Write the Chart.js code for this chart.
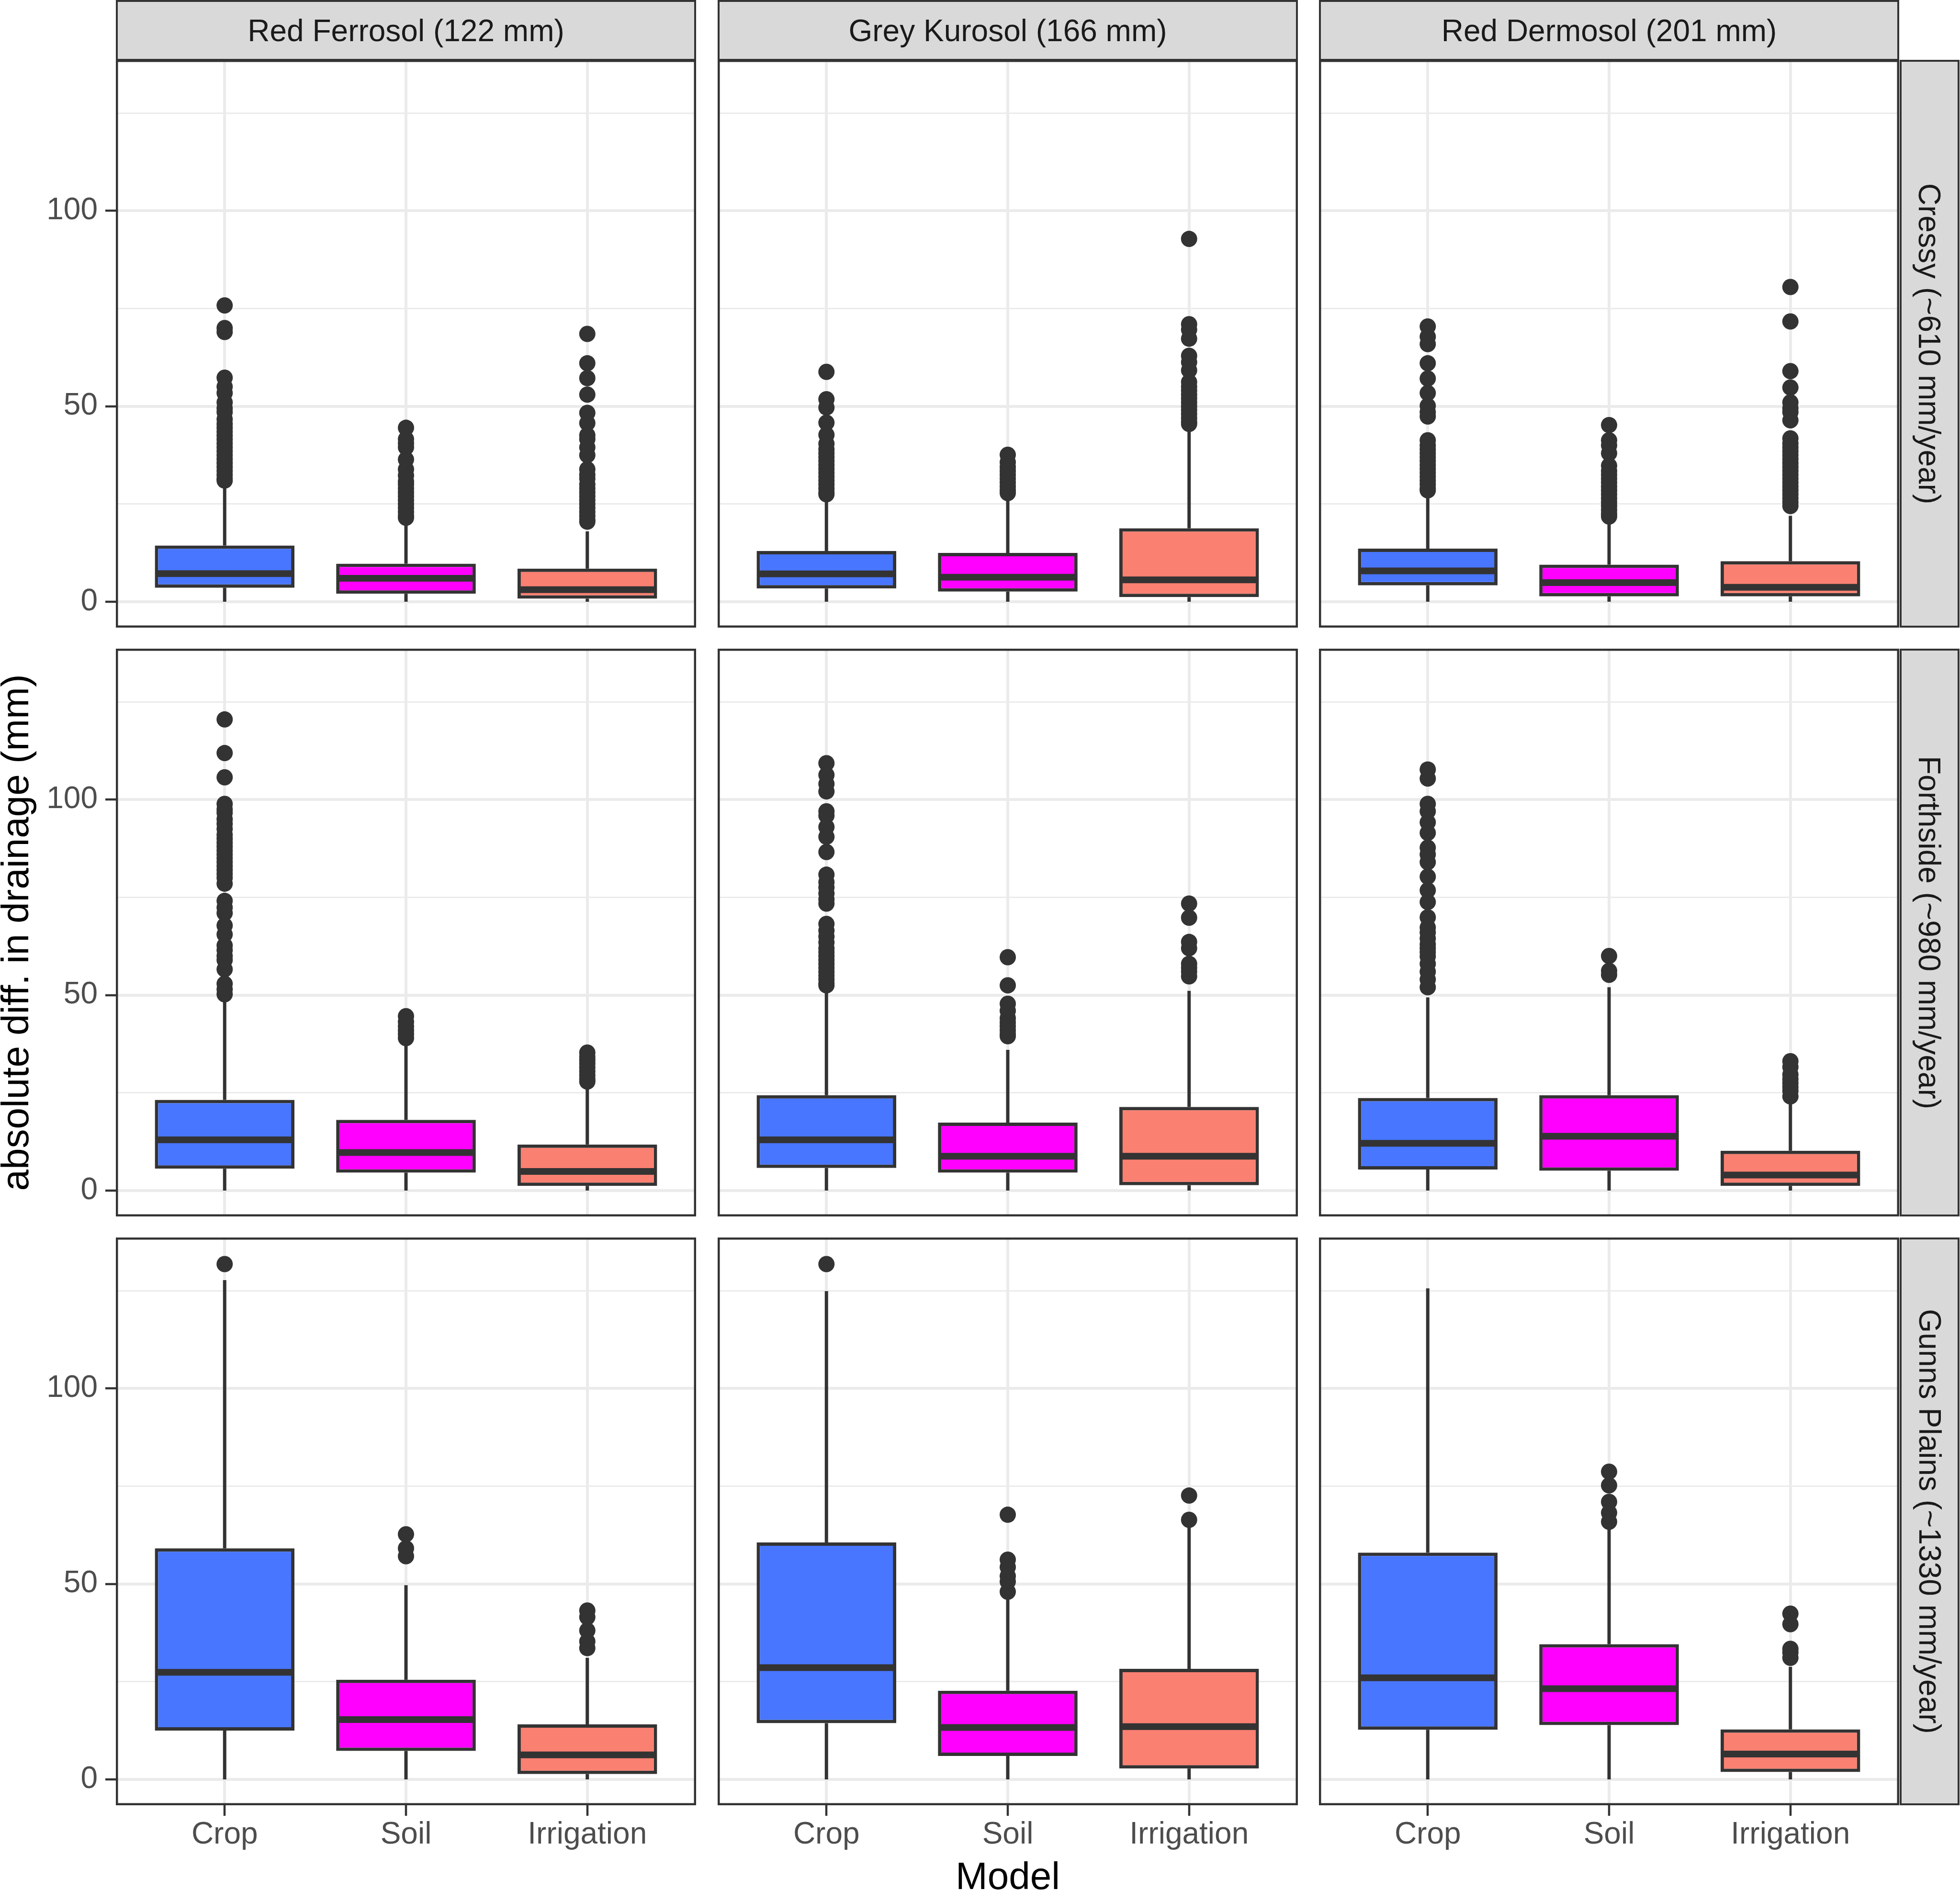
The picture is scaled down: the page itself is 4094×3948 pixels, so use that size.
<!DOCTYPE html>
<html>
<head>
<meta charset="utf-8">
<script src="https://cdn.jsdelivr.net/npm/chart.js@4.4.0/dist/chart.umd.min.js"></script>
<style>
html,body{margin:0;padding:0;background:#ffffff;}
#root{position:relative;width:4094px;height:3948px;overflow:hidden;background:#fff;font-family:"Liberation Sans",Arial,Helvetica,sans-serif;}
#root canvas{position:absolute;}
.strip{position:absolute;background:#D9D9D9;border:4.5px solid #333333;box-sizing:border-box;color:#1A1A1A;font-size:64px;display:flex;align-items:center;justify-content:center;white-space:nowrap;}
.vtext{transform:rotate(90deg);display:inline-block;}
</style>
</head>
<body>
<div id="root"></div>
<script>
// ---------- data ----------
const soils = ['Red Ferrosol (122 mm)', 'Grey Kurosol (166 mm)', 'Red Dermosol (201 mm)'];
const sites = ['Cressy (~610 mm/year)', 'Forthside (~980 mm/year)', 'Gunns Plains (~1330 mm/year)'];
const models = ['Crop', 'Soil', 'Irrigation'];
const modelColors = ['#4876FF', '#FF00FF', '#FA8072'];
const yTickLabels = [0, 50, 100];
const yGridValues = [0, 25, 50, 75, 100, 125];
const xTitle = 'Model';
const yTitle = 'absolute diff. in drainage (mm)';

// per site: [soil][model]
const cressyQ1     = [[3.6, 2.05, 0.8], [3.4, 2.6, 1.2], [4.2, 1.4, 1.4]];
const cressyMedian = [[7.2, 6.0, 3.1], [7.15, 6.3, 5.6], [7.9, 4.9, 3.7]];
const cressyQ3     = [[14.4, 9.75, 8.5], [13.0, 12.5, 18.8], [13.6, 9.5, 10.4]];
const cressyWhiskerHigh = [[29.5, 19.5, 18], [26.5, 26, 45], [27.5, 20.9, 22]];
const cressyWhiskerLow  = [[0, 0, 0], [0, 0, 0], [0, 0, 0]];
const cressyOutliers = [
  [[75.8, 70, 69, 57.3, 55, 53.4, 51, 49.5, 48.5, 46.7, 45.5, 44.5, 43.5, 42.5, 41.5, 40.5, 39.5, 38.5, 37.5, 36.5, 35.5, 34.5, 33.5, 32.5, 31.5, 31],
   [44.5, 41.6, 40.5, 39.5, 36.4, 33.9, 32.3, 30.8, 30, 29, 28, 27, 26, 25, 24, 23, 22, 21.5],
   [68.5, 61, 57.2, 53, 48.3, 45.7, 42.6, 41.6, 39.5, 37.5, 33.9, 32.5, 31.5, 30, 29, 28, 27, 26, 25, 24, 23, 22, 21, 20.5]],
  [[58.8, 51.8, 49.7, 45.8, 42.7, 40.4, 39, 38, 37, 36, 35, 34, 33, 32, 31, 30, 29, 28, 27.5],
   [37.6, 35.7, 34.5, 33.5, 32.5, 31.5, 30.5, 29.5, 28.5, 27.8],
   [92.8, 71, 69.6, 67.3, 62.9, 61.3, 59.2, 56.2, 55, 54, 53, 52, 51, 50, 49, 48, 47, 46, 45.5]],
  [[70.4, 67.8, 65.9, 61, 57.1, 53.4, 50.1, 48.5, 47.4, 41.3, 40, 39, 38, 37, 36, 35, 34, 33, 32, 31, 30, 29, 28.5],
   [45.2, 41.3, 40, 38, 34.8, 33.5, 32.5, 31.5, 30.5, 29.5, 28.5, 27.5, 26.5, 25.5, 24.5, 23.5, 22.5, 21.8],
   [80.5, 71.7, 59, 54.8, 51, 49.5, 48.5, 46.4, 41.8, 40.5, 39.5, 38.5, 37.5, 36.5, 35.5, 34.5, 33.5, 32.5, 31.5, 30.5, 29.5, 28.5, 27.5, 26.5, 25.5, 24.5]]
];

const forthsideQ1     = [[5.6, 4.6, 1.2], [5.8, 4.6, 1.4], [5.4, 5.1, 1.2]];
const forthsideMedian = [[13.0, 9.75, 4.9], [13.0, 8.8, 8.8], [12.1, 13.9, 4.0]];
const forthsideQ3     = [[23.2, 18.1, 11.8], [24.4, 17.4, 21.4], [23.7, 24.4, 10.2]];
const forthsideWhiskerHigh = [[48.5, 37.1, 26], [51.1, 36, 51.1], [49.4, 52, 22.3]];
const forthsideWhiskerLow  = [[0, 0, 0], [0, 0, 0], [0, 0, 0]];
const forthsideOutliers = [
  [[120.5, 111.9, 105.7, 98.9, 97.5, 96.6, 95, 93.8, 92.5, 91, 90, 89, 88, 87, 86, 85, 84, 83, 82, 81, 80, 78.5, 74.1, 72.4, 71, 67.8, 65.5, 62.7, 61.5, 60, 59, 56.6, 52.9, 51.5, 50.2],
   [44.6, 43.2, 42, 41, 40, 39],
   [35.3, 34.2, 33.4, 32.5, 31.5, 30.5, 29.5, 28.5, 27.9]],
  [[109.3, 106.3, 104, 102.1, 97, 95.9, 93, 90.5, 86.6, 80.8, 78.9, 77.5, 76, 74.5, 73.4, 68.2, 66.5, 65, 63.5, 62, 61, 60, 59, 58, 57, 56, 55, 54, 53, 52.5],
   [59.7, 52.5, 47.8, 46, 44.1, 43, 42, 41, 40, 39.5],
   [73.4, 69.8, 63.6, 62, 58, 57, 56, 54.8]],
  [[107.7, 105.4, 98.9, 97, 94.2, 91.5, 87.7, 86, 84, 80.3, 76.8, 73.8, 69.9, 67.3, 66, 64.5, 63, 62, 61, 59.9, 58, 56, 54, 52],
   [60, 56.2, 55.2],
   [33.1, 31.6, 29.7, 28.5, 27.5, 26.5, 25.5, 24.1]]
];

const gunnsQ1     = [[12.5, 7.3, 1.4], [14.4, 6.0, 2.8], [12.7, 13.9, 1.9]];
const gunnsMedian = [[27.4, 15.3, 6.3], [28.6, 13.3, 13.5], [26.0, 23.2, 6.5]];
const gunnsQ3     = [[59.1, 25.5, 14.1], [60.6, 22.7, 28.3], [58.0, 34.6, 12.8]];
const gunnsWhiskerHigh = [[127.7, 49.7, 31.1], [124.9, 46, 64.5], [125.6, 64.1, 28.8]];
const gunnsWhiskerLow  = [[0, 0, 0], [0, 0, 0], [0, 0, 0]];
const gunnsOutliers = [
  [[131.8], [62.7, 59.1, 57.1], [43.2, 41.5, 38.1, 35.3, 33.6]],
  [[131.8], [67.7, 56.2, 54.3, 52, 50.6, 48], [72.6, 66.4]],
  [[], [78.7, 75.2, 71, 68.2, 65.9], [42.4, 39.7, 33.4, 32.5, 31.1]]
];

const siteStats = [
  {q1: cressyQ1, med: cressyMedian, q3: cressyQ3, hi: cressyWhiskerHigh, lo: cressyWhiskerLow, out: cressyOutliers},
  {q1: forthsideQ1, med: forthsideMedian, q3: forthsideQ3, hi: forthsideWhiskerHigh, lo: forthsideWhiskerLow, out: forthsideOutliers},
  {q1: gunnsQ1, med: gunnsMedian, q3: gunnsQ3, hi: gunnsWhiskerHigh, lo: gunnsWhiskerLow, out: gunnsOutliers}
];

// ---------- layout ----------
const colX = [242, 1499, 2755];
const rowY = [125, 1355, 2585];
const panelW = 1212, panelH = 1186;
const leftMargin = 242;
const bottomMargin = 3948 - (rowY[2] + panelH);
const Y_MIN = -6.6, Y_MAX = 138.6;

Chart.defaults.font.family = '"Liberation Sans", Arial, Helvetica, sans-serif';

const root = document.getElementById('root');

// strips
soils.forEach((s, c) => {
  const d = document.createElement('div');
  d.className = 'strip';
  d.style.left = colX[c] + 'px';
  d.style.top = '0px';
  d.style.width = panelW + 'px';
  d.style.height = (rowY[0] + 2) + 'px';
  d.textContent = s;
  root.appendChild(d);
});
sites.forEach((s, r) => {
  const d = document.createElement('div');
  d.className = 'strip';
  d.style.left = (colX[2] + panelW + 1) + 'px';
  d.style.top = rowY[r] + 'px';
  d.style.width = '125px';
  d.style.height = panelH + 'px';
  const sp = document.createElement('span');
  sp.className = 'vtext';
  sp.textContent = s;
  d.appendChild(sp);
  root.appendChild(d);
});

const boxExtras = {
  id: 'boxExtras',
  beforeDatasetsDraw(chart, args, opts) {
    const ctx = chart.ctx, ys = chart.scales.y;
    const meta = chart.getDatasetMeta(0);
    ctx.save();
    ctx.strokeStyle = '#333333';
    ctx.lineWidth = 7;
    ctx.lineCap = 'butt';
    meta.data.forEach((bar, i) => {
      const x = bar.x;
      ctx.beginPath();
      ctx.moveTo(x, ys.getPixelForValue(opts.q3[i]));
      ctx.lineTo(x, ys.getPixelForValue(opts.hi[i]));
      ctx.moveTo(x, ys.getPixelForValue(opts.q1[i]));
      ctx.lineTo(x, ys.getPixelForValue(opts.lo[i]));
      ctx.stroke();
    });
    ctx.restore();
  },
  afterDatasetsDraw(chart, args, opts) {
    const ctx = chart.ctx, ys = chart.scales.y;
    const meta = chart.getDatasetMeta(0);
    ctx.save();
    ctx.strokeStyle = '#333333';
    ctx.lineWidth = 14;
    ctx.lineCap = 'butt';
    meta.data.forEach((bar, i) => {
      const py = ys.getPixelForValue(opts.med[i]);
      ctx.beginPath();
      ctx.moveTo(bar.x - bar.width / 2 + 3.5, py);
      ctx.lineTo(bar.x + bar.width / 2 - 3.5, py);
      ctx.stroke();
    });
    ctx.restore();
  },
  afterDraw(chart) {
    const ctx = chart.ctx, a = chart.chartArea;
    ctx.save();
    ctx.strokeStyle = '#333333';
    ctx.lineWidth = 4.5;
    ctx.strokeRect(a.left + 2.25, a.top + 2.25, a.right - a.left - 4.5, a.bottom - a.top - 4.5);
    ctx.restore();
  }
};

for (let r = 0; r < 3; r++) {
  for (let c = 0; c < 3; c++) {
    const st = siteStats[r];
    const lm = c === 0 ? leftMargin : 0;
    const bm = r === 2 ? bottomMargin : 0;
    const cv = document.createElement('canvas');
    cv.width = panelW + lm;
    cv.height = panelH + bm;
    cv.style.width = cv.width + 'px';
    cv.style.height = cv.height + 'px';
    cv.style.left = (colX[c] - lm) + 'px';
    cv.style.top = rowY[r] + 'px';
    root.appendChild(cv);

    const boxData = models.map((m, i) => ({x: i + 1, y: [st.q1[c][i], st.q3[c][i]]}));
    const outData = [];
    models.forEach((m, i) => st.out[c][i].forEach(v => outData.push({x: i + 1, y: v})));

    new Chart(cv, {
      type: 'bar',
      data: {
        datasets: [
          {
            type: 'bar',
            data: boxData,
            backgroundColor: modelColors,
            borderColor: '#333333',
            borderWidth: 7,
            borderSkipped: false,
            barPercentage: 0.77,
            categoryPercentage: 1.0
          },
          {
            type: 'scatter',
            data: outData,
            pointRadius: 17,
            pointHoverRadius: 17,
            pointBackgroundColor: '#333333',
            pointBorderWidth: 0,
            showLine: false
          }
        ]
      },
      options: {
        responsive: false,
        animation: false,
        devicePixelRatio: 1,
        events: [],
        layout: {padding: 0, autoPadding: false},
        plugins: {
          legend: {display: false},
          tooltip: {enabled: false},
          boxExtras: {
            q1: st.q1[c], q3: st.q3[c], med: st.med[c], hi: st.hi[c], lo: st.lo[c]
          }
        },
        scales: {
          x: {
            type: 'linear',
            position: 'bottom',
            min: 0.4,
            max: 3.6,
            offset: false,
            afterBuildTicks: s => { s.ticks = models.map((m, i) => ({value: i + 1})); },
            afterFit: s => { s.height = bm; s.paddingLeft = 0; s.paddingRight = 0; s.paddingTop = 0; s.paddingBottom = 0; },
            ticks: {
              display: r === 2,
              autoSkip: false,
              maxRotation: 0,
              minRotation: 0,
              padding: 2,
              color: '#4D4D4D',
              font: {size: 64},
              callback: v => models[Math.round(v) - 1]
            },
            grid: {
              offset: false,
              color: '#EBEBEB',
              lineWidth: 6,
              drawTicks: r === 2,
              tickLength: 22,
              tickColor: '#333333',
              tickWidth: 4.5
            },
            border: {display: false},
            title: {
              display: r === 2 && c === 1,
              text: xTitle,
              color: '#000000',
              font: {size: 80},
              padding: {top: 0, bottom: -24}
            }
          },
          y: {
            type: 'linear',
            position: 'left',
            min: Y_MIN,
            max: Y_MAX,
            beginAtZero: false,
            afterBuildTicks: s => { s.ticks = yGridValues.map(v => ({value: v})); },
            afterFit: s => { s.width = lm; s.paddingLeft = 0; s.paddingRight = 0; s.paddingTop = 0; s.paddingBottom = 0; },
            ticks: {
              display: c === 0,
              autoSkip: false,
              padding: 16,
              color: '#4D4D4D',
              font: {size: 64},
              callback: v => yTickLabels.includes(v) ? String(v) : ''
            },
            grid: {
              color: '#EBEBEB',
              lineWidth: ctx => (ctx.tick && yTickLabels.includes(ctx.tick.value)) ? 6 : 3,
              drawTicks: c === 0,
              tickLength: 22,
              tickColor: ctx => (ctx.tick && yTickLabels.includes(ctx.tick.value)) ? '#333333' : 'rgba(0,0,0,0)',
              tickWidth: 4.5
            },
            border: {display: false},
            title: {
              display: r === 1 && c === 0,
              text: yTitle,
              color: '#000000',
              font: {size: 80},
              padding: {top: -11, bottom: 0}
            }
          }
        }
      },
      plugins: [boxExtras]
    });
  }
}
</script>
</body>
</html>
